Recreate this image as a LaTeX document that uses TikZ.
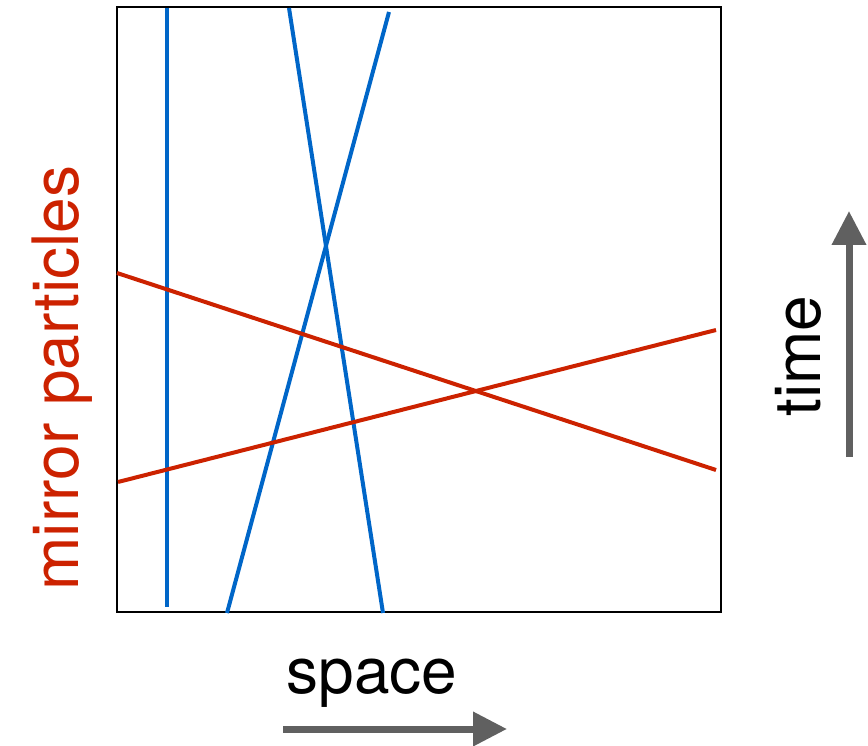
\documentclass[tikz,border=0pt]{standalone}
\usepackage{fontspec}
\setmainfont{TeX Gyre Heros}
\usetikzlibrary{arrows.meta}
\definecolor{wblue}{RGB}{0,102,200}
\definecolor{wred}{RGB}{204,34,0}
\definecolor{agray}{RGB}{96,96,96}
\tikzset{
  blueline/.style={draw=wblue,line width=4pt},
  redline/.style={draw=wred,line width=4pt},
  frame/.style={draw=black,line width=2pt},
  bigtext/.style={inner sep=0pt,anchor=base,font=\fontsize{64}{70}\selectfont},
  grayarrow/.style={draw=agray,line width=7pt,-{Triangle[length=34pt,width=33pt,fill=agray]}}
}
\begin{document}
\begin{tikzpicture}[x=1pt,y=-1pt]
\useasboundingbox (0,0) rectangle (868,746);
% frame
\draw[frame] (117,7) rectangle (721,612);
% blue world lines
\draw[blueline] (167,8) -- (167,607);
\draw[blueline] (289,8) -- (383,613);
\draw[blueline] (389,12) -- (227,613);
% red world lines
\draw[redline] (117,273) -- (716,470);
\draw[redline] (118,482) -- (716,330);
% labels
\node[bigtext,text=wred,rotate=90] (mirror) at (78,378) {mirror particles};
\node[bigtext,rotate=90] (time) at (820,356) {time};
\node[bigtext] (space) at (372,693) {space};
% arrows
\coordinate (sa) at (283,729);
\coordinate (sb) at (507,729);
\coordinate (ta) at (849,457);
\coordinate (tb) at (849,211);
\draw[grayarrow] (sa) -- (sb);
\draw[grayarrow] (ta) -- (tb);
\end{tikzpicture}
\end{document}
